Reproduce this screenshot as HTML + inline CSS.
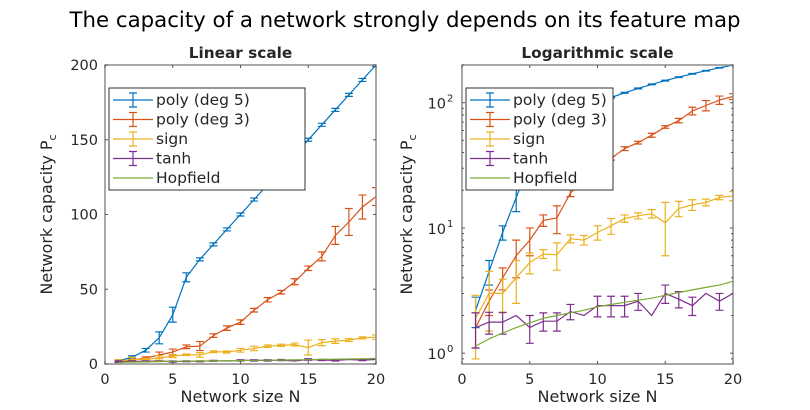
<!DOCTYPE html>
<html><head><meta charset="utf-8"><style>
html,body{margin:0;padding:0;background:#fff;}
svg text{font-family:"DejaVu Sans","Liberation Sans",sans-serif;fill:#262626;}
</style></head><body>
<svg id="fig" width="810" height="405" viewBox="0 0 810 405" xmlns="http://www.w3.org/2000/svg">
<rect width="810" height="405" fill="#fff"/>
<text x="405" y="27" text-anchor="middle" font-size="21.3" style="fill:#000">The capacity of a network strongly depends on its feature map</text>
<g id="left"></g><g id="right"></g>
</svg>
<script>
const Ns=[1,2,3,4,5,6,7,8,9,10,11,12,13,14,15,16,17,18,19,20];
const poly5=[2.2,4.5,9.2,17.5,33,58,70,80,90,100,110,120,130,140,150,160,170,180,190,200];
const poly5Err=[0.6,1,1.2,4,5,3,1,1,1,1,1,1,1,1,1,1,1,1,1,1];
const poly3=[1.6,2.6,4,6,8,11.5,12,19,24,28,36,43,48,55,64,72,86,95,105,112];
const poly3Err=[0.5,0.6,0.8,2,2,1.2,3,1.2,1.5,1.5,1.2,1.5,1.2,2,1.5,3,6,9,8,6];
const sign=[1.9,3,3,4,5.3,6.2,6.1,8.2,8,9.2,10.4,11.9,12.5,13,11,14.3,15.3,16,17.5,18];
const signErr=[1,1.5,0.9,1.5,1,0.5,1.5,0.6,0.7,1.2,1.5,0.8,0.7,1,5,2,1.5,1,0.7,1.5];
const tanh=[1.6,1.77,1.77,2.0,1.6,1.8,1.8,2.15,2.0,2.4,2.4,2.4,2.6,2.0,3.0,2.7,2.4,3.0,2.6,3.0];
const tanhErr=[0.5,0.35,0.35,0,0.4,0.3,0.3,0.3,0,0.45,0.45,0.45,0.4,0,0.5,0.4,0.4,0,0.4,0];
const hopfield=[1.14,1.3,1.45,1.6,1.75,1.9,2.0,2.1,2.2,2.35,2.45,2.55,2.65,2.75,2.9,3.05,3.2,3.35,3.5,3.75];
const xTicks=[0,5,10,15,20];
const yTicksLin=[0,50,100,150,200];
const yTicksLog=[0,1,2];
const series=[
 {name:'poly (deg 5)',key:'poly5',v:poly5,e:poly5Err,c:'#0072BD'},
 {name:'poly (deg 3)',key:'poly3',v:poly3,e:poly3Err,c:'#D95319'},
 {name:'sign',key:'sign',v:sign,e:signErr,c:'#EDB120'},
 {name:'tanh',key:'tanh',v:tanh,e:tanhErr,c:'#7E2F8E'},
 {name:'Hopfield',key:'hopfield',v:hopfield,e:null,c:'#77AC30'}];
const NS='http://www.w3.org/2000/svg';
function mk(p,t,a){const e=document.createElementNS(NS,t);for(const k in a)e.setAttribute(k,a[k]);p.appendChild(e);return e;}
function draw(g,log,L,R,T,B,title,prefix){
 const sx=x=>L+(x-0)/20*(R-L);
 const lmin=Math.log10(0.82),lmax=Math.log10(200);
 const sy=log?(y=>B-(Math.log10(Math.max(y,0.5))-lmin)/(lmax-lmin)*(B-T)):(y=>B-y/200*(B-T));
 const cid=prefix+'clip';
 const d=mk(g,'defs',{});const cp=mk(d,'clipPath',{id:cid});mk(cp,'rect',{x:L,y:T,width:R-L,height:B-T});
 const t=mk(g,'text',{x:(L+R)/2,y:58,'text-anchor':'middle','font-size':15.3,'font-weight':'bold'});
 t.textContent=title;
 const pg=mk(g,'g',{'clip-path':`url(#${cid})`});
 
 series.forEach(s=>{
  const sg=mk(pg,'g',{});
  
  const pts=Ns.map((n,i)=>sx(n).toFixed(1)+','+sy(s.v[i]).toFixed(1)).join(' ');
  const pl=mk(sg,'polyline',{points:pts,fill:'none',stroke:s.c,'stroke-width':1.2});
  
  if(s.e)Ns.forEach((n,i)=>{
   if(!s.e[i])return;
   const x=sx(n),y1=sy(s.v[i]-s.e[i]),y2=sy(s.v[i]+s.e[i]);
   const eb=mk(sg,'path',{d:`M${x},${y1}V${y2}M${x-4},${y1}H${x+4}M${x-4},${y2}H${x+4}`,stroke:s.c,'stroke-width':1.2,fill:'none'});
   
  });
 });
 const ax=mk(g,'rect',{x:L,y:T,width:R-L,height:B-T,fill:'none',stroke:'#8c8c8c','stroke-width':1.5});
 
 xTicks.forEach(v=>{const x=sx(v);mk(g,'path',{d:`M${x},${B}v-3M${x},${T}v3`,stroke:'#555'});
  const tl=mk(g,'text',{x:x,y:B+20,'text-anchor':'middle','font-size':14.5});
  tl.textContent=v;});
 if(!log){yTicksLin.forEach(v=>{const y=sy(v);mk(g,'path',{d:`M${L},${y}h3M${R},${y}h-3`,stroke:'#555'});
  const tl=mk(g,'text',{x:L-7,y:y+5,'text-anchor':'end','font-size':14.5});
  tl.textContent=v;});}
 else{
  for(let e=-1;e<=2;e++)for(let m=1;m<10;m++){const v=m*Math.pow(10,e);if(v<0.82||v>200)continue;const y=sy(v);const len=m===1?3:2;
   mk(g,'path',{d:`M${L},${y}h${len}M${R},${y}h-${len}`,stroke:'#555'});}
  yTicksLog.forEach(e=>{const y=sy(Math.pow(10,e));
   const tl=mk(g,'text',{x:L-16,y:y+6,'text-anchor':'end','font-size':14.5});
   tl.textContent='10';
   const sp=mk(g,'text',{x:L-15,y:y-1,'text-anchor':'start','font-size':10});sp.textContent=e;
   });
 }
 const xl=mk(g,'text',{x:(L+R)/2,y:B+38,'text-anchor':'middle','font-size':16});
 xl.textContent='Network size N';
 const yx=log?L-50:L-53,yy=(T+B)/2;
 const yl=mk(g,'text',{x:yx,y:yy,'text-anchor':'middle','font-size':16,transform:`rotate(-90 ${yx} ${yy})`});
 
 yl.innerHTML='Network capacity P<tspan font-size="11" dy="4">c</tspan>';
 const lx=L+4,ly=88,lw=log?147:196,lh=102;
 const lg=mk(g,'g',{});
 mk(lg,'rect',{x:lx,y:ly,width:lw,height:lh,fill:'#fff',stroke:'#333','stroke-width':1});
 series.forEach((s,i)=>{const y=ly+12+i*19.5;
  const en=mk(lg,'g',{});
  mk(en,'path',{d:`M${lx+4},${y}h40`,stroke:s.c,'stroke-width':1.2});
  if(s.e)mk(en,'path',{d:`M${lx+24},${y-7}v14M${lx+20},${y-7}h8M${lx+20},${y+7}h8`,stroke:s.c,'stroke-width':1.2});
  const tx=mk(en,'text',{x:lx+47,y:y+5,'font-size':15.5});tx.textContent=s.name;});
}
draw(document.getElementById('left'),false,105,376,65,364,'Linear scale','linear');
draw(document.getElementById('right'),true,462,733,65,364,'Logarithmic scale','log');
</script>
</body></html>
